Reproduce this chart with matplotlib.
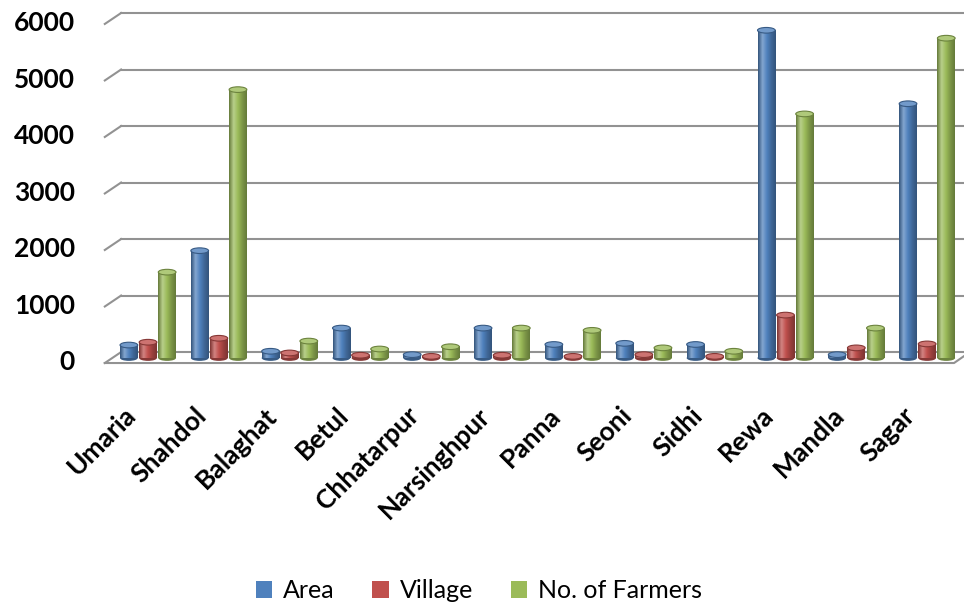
import numpy as np
import matplotlib
matplotlib.use("Agg")
import matplotlib.pyplot as plt
from matplotlib.patches import Ellipse, Patch
from matplotlib.colors import LinearSegmentedColormap, to_rgb

# district data
districts = ["Umaria", "Shahdol", "Balaghat", "Betul", "Chhatarpur", "Narsinghpur",
             "Panna", "Seoni", "Sidhi", "Rewa", "Mandla", "Sagar"]
area = [230, 1900, 120, 530, 60, 530, 240, 260, 240, 5800, 60, 4500]
village = [280, 350, 90, 50, 30, 50, 30, 60, 30, 760, 180, 250]
farmers = [1520, 4750, 300, 160, 200, 530, 490, 180, 120, 4320, 530, 5660]
series_names = ["Area", "Village", "No. of Farmers"]
colors = ["#4F81BD", "#C0504D", "#9BBB59"]
yticks = [0, 1000, 2000, 3000, 4000, 5000, 6000]

plt.rcParams['font.family'] = ['Lato', 'DejaVu Sans']

fig = plt.figure(figsize=(9.64, 6.11), dpi=100)
ax = fig.add_axes([0.1168, 0.414, 0.8817, 0.586])
ax.set_xlim(-0.5, 11.5)
ax.set_ylim(0, 6336)
ax.axis("off")

back = 106    # back wall offset (value units)
front = -88   # front edge offset

# gridlines on back wall with slanted wall edge at left
for v in yticks:
    ax.plot([-0.38, 11.6], [v + back, v + back], color="#929292", lw=1.5,
            clip_on=False, zorder=1)
    ax.plot([-0.61, -0.38], [v + front, v + back], color="#929292", lw=1.5,
            clip_on=False, zorder=1)
    ax.text(-0.0442, v + front + 10, str(v), transform=ax.get_yaxis_transform(),
            ha="right", va="center", fontsize=19, fontweight="bold")

# floor front edge
ax.plot([-0.61, 11.38, 11.55], [front, front, 60], color="#929292", lw=1.5,
        clip_on=False, zorder=1)

def cyl_cmap(c):
    r = np.array(to_rgb(c))
    dark = r * 0.65
    light = np.clip(r + (1 - r) * 0.3, 0, 1)
    return LinearSegmentedColormap.from_list("cyl", [dark, light, r, r * 0.8, dark])

w = 0.27
grad = np.linspace(0, 1, 64).reshape(1, -1)
x = np.arange(len(districts))
for k, vals in enumerate([area, village, farmers]):
    cm = cyl_cmap(colors[k])
    rc = np.array(to_rgb(colors[k]))
    for i, v in enumerate(vals):
        xc = x[i] + (k - 1) * w
        x0, x1 = xc - w / 2 + 0.01, xc + w / 2 - 0.01
        ax.add_patch(Ellipse((xc, 0), x1 - x0, 100, facecolor=rc * 0.7,
                             edgecolor="none", zorder=2 + k, clip_on=False))
        ax.imshow(grad, extent=[x0, x1, 0, v], aspect="auto", cmap=cm,
                  zorder=2 + k, interpolation="bilinear")
        ax.add_patch(Ellipse((xc, v), x1 - x0, 100,
                             facecolor=np.clip(rc + (1 - rc) * 0.2, 0, 1),
                             edgecolor=rc * 0.7, lw=0.8, zorder=2 + k, clip_on=False))

ax.set_xlim(-0.5, 11.5)
ax.set_ylim(0, 6336)

for i, name in enumerate(districts):
    ax.text(x[i] - 0.11, -796, name, rotation=45, ha="right", va="top",
            fontsize=19, fontweight="bold", clip_on=False)

handles = [Patch(facecolor=c, edgecolor="none") for c in colors]
fig.legend(handles, series_names, loc="center", bbox_to_anchor=(0.497, 0.033),
           ncol=3, frameon=False, fontsize=18, handlelength=0.65, handleheight=0.65,
           handletextpad=0.45, columnspacing=1.5)

fig.savefig("out.png", dpi=100)
